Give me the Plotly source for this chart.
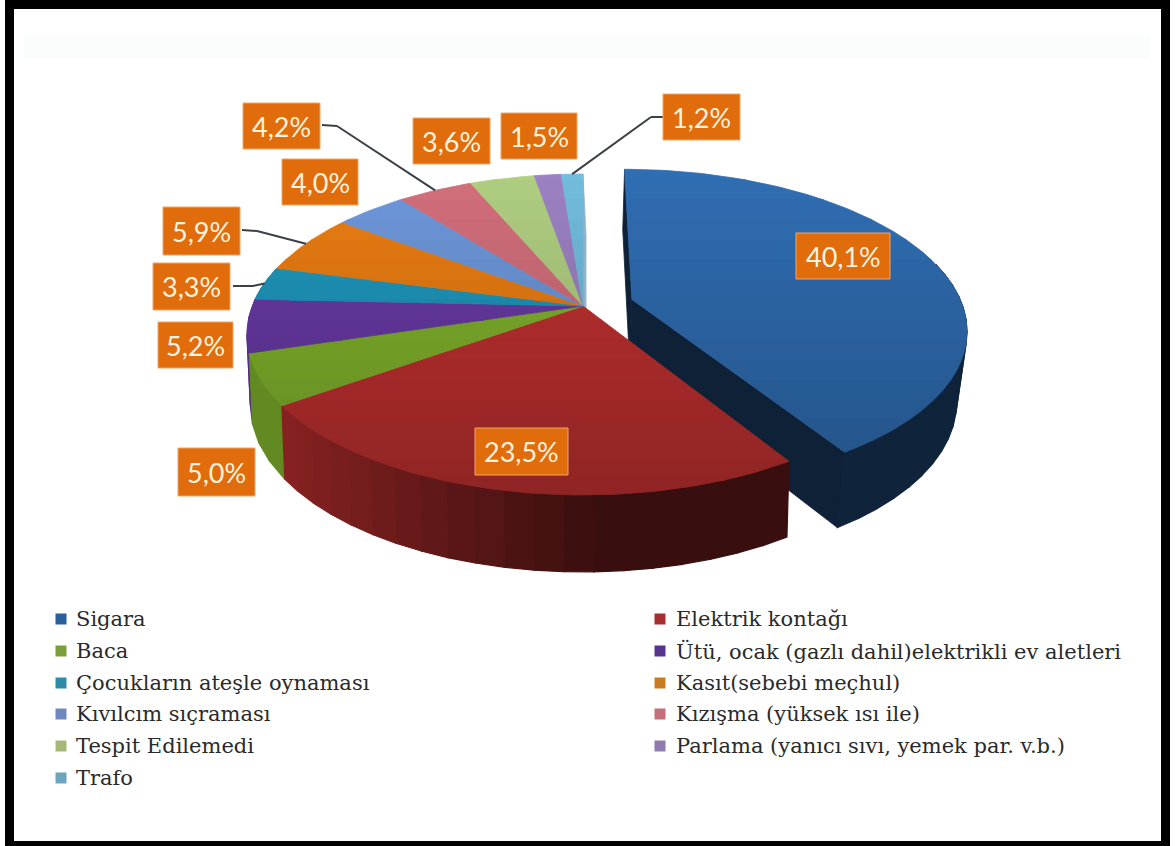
import numpy as np
import plotly.graph_objects as go

# ---------- data ----------
categories = ["Sigara", "Elektrik kontağı", "Baca", "Ütü, ocak (gazlı dahil)elektrikli ev aletleri",
              "Çocukların ateşle oynaması", "Kasıt(sebebi meçhul)", "Kıvılcım sıçraması",
              "Kızışma (yüksek ısı ile)", "Tespit Edilemedi", "Parlama (yanıcı sıvı, yemek par. v.b.)", "Trafo"]
values = [40.1, 23.5, 5.0, 5.2, 3.3, 5.9, 4.0, 4.2, 3.6, 1.5, 1.2]
value_labels = ["40,1%", "23,5%", "5,0%", "5,2%", "3,3%", "5,9%", "4,0%", "4,2%", "3,6%", "1,5%", "1,2%"]
colors = [(47, 108, 176), (190, 48, 48), (128, 178, 44), (104, 58, 164), (30, 150, 186), (232, 124, 18),
          (108, 150, 216), (208, 110, 122), (174, 204, 128), (154, 128, 192), (112, 186, 218)]
legend_colors = ["#2A6099", "#A52F30", "#7C9F3A", "#56358C", "#2C8CA8", "#C97A22",
                 "#7089BD", "#C4707A", "#A6B878", "#8F7BAE", "#6DA5BE"]

# ---------- layout constants (pixels of the 1176x846 page) ----------
W, H = 1176, 846
OX, OY = 583.0, 306.0         # pie apex
R, B, P = 330.7, 155.4, 0.1776  # perspective disc
EXPLODE = 0.155               # pull of the first slice, in radii
label_boxes = [(796, 890, 233, 279), (475, 568, 428, 475), (178, 255, 448, 496), (158, 233, 322, 368),
               (153, 230, 263, 310), (163, 240, 207, 255), (282, 358, 159, 205), (243, 320, 103, 149),
               (413, 490, 118, 164), (501, 577, 113, 159), (663, 740, 94, 140)]
leader_elbows = {4: [(233, 286), (253, 286)], 5: [(242, 230), (257, 231)],
                 7: [(322, 125), (337, 126)], 10: [(663, 117), (651, 117)]}
legend_cols = [(56, 74), (655, 674)]
legend_rows = [619, 651, 683, 714, 746, 778]

fractions = np.array(values) / sum(values)
edges = np.concatenate([[0], np.cumsum(fractions)]) * 2 * np.pi


def project(X, Y):
    """Project a point of the disc plane (radius 1, Y towards the back) to the page."""
    s = 1 / (1 + P * Y)
    return OX + R * X * s, OY - B * Y * s


def shade(c, f):
    return "rgb(%d,%d,%d)" % tuple(int(min(255, max(0, v * f))) for v in c)


def clip(poly, y0, y1):
    def half(pts, inside, cross):
        out = []
        for i in range(len(pts)):
            a, b = pts[i], pts[(i + 1) % len(pts)]
            if inside(a):
                out.append(a)
            if inside(a) != inside(b):
                out.append(cross(a, b))
        return out

    def at(yv):
        return lambda a, b: (a[0] + (b[0] - a[0]) * (yv - a[1]) / (b[1] - a[1]), yv)
    p = half(poly, lambda q: q[1] >= y0, at(y0))
    if p:
        p = half(p, lambda q: q[1] <= y1, at(y1))
    return p


fig = go.Figure()


def poly(pts, color, width=0.8):
    xs = [p[0] for p in pts] + [pts[0][0]]
    ys = [p[1] for p in pts] + [pts[0][1]]
    fig.add_trace(go.Scatter(x=xs, y=ys, mode="lines", fill="toself", fillcolor=color,
                             line=dict(color=color, width=width),
                             hoverinfo="skip", showlegend=False))


def offset(i):
    if i != 0:
        return 0.0, 0.0
    mid = (edges[0] + edges[1]) / 2
    return EXPLODE * np.sin(mid), EXPLODE * np.cos(mid)


def base_at(i, apex_x, x, y, Y):
    """Side-wall bottom point for a rim or apex point."""
    if i == 0:
        return apex_x + 0.975 * (x - apex_x) - 2, y + 69 - 8 * Y
    return OX + 0.99 * (x - OX), y + 69 - 8 * Y


def slice_points(i, density=60):
    th = np.linspace(edges[i], edges[i + 1], max(4, int((edges[i + 1] - edges[i]) * density)))
    ex, ey = offset(i)
    pts = []
    for t in th:
        X, Y = np.sin(t) + ex, np.cos(t) + ey
        px, py = project(X, Y)
        pts.append((px, py, Y))
    return project(ex, ey), pts


def walls(i):
    apex, arc = slice_points(i, 14)
    c = colors[i]
    a_base = base_at(i, apex[0], apex[0], apex[1], 0)
    if i == 0:
        for p in (arc[0], arc[-1]):
            b = base_at(i, apex[0], *p)
            poly([apex, (p[0], p[1]), b, a_base], shade(c, 0.31))
    for a, b in zip(arc[:-1], arc[1:]):
        if a[2] > 0.25 and b[2] > 0.25:
            continue
        f = 0.78 - 0.42 * np.clip((a[0] - 285) / 500, 0, 1)
        if i == 0:
            f = 0.34
        elif i == 1:
            f = 0.72 - 0.42 * np.clip((a[0] - 285) / 330, 0, 1)
        poly([a[:2], b[:2], base_at(i, apex[0], *b), base_at(i, apex[0], *a)], shade(c, f), 1.2)


def top(i):
    apex, arc = slice_points(i)
    pts = [apex] + [p[:2] for p in arc]
    step = 20
    for y0 in range(160, 520, step):
        part = clip(pts, y0, y0 + step)
        if len(part) >= 3:
            g = 1.02 - 0.23 * (y0 + step / 2 - 170) / 290
            poly(part, shade(colors[i], g))


# faint panel of the scanned picture
fig.add_shape(type="rect", x0=24, x1=1150, y0=36, y1=58, fillcolor="#FBFCFC", line_width=0, layer="below")

# back wall of the main pie seen through the gap
_, arc0 = slice_points(len(values) - 1)
end = arc0[-1]
poly([(OX, OY), end[:2], (end[0] + 3, end[1] + 61), (OX + 3, OY + 69)], "#8FB3CC")

# exploded slice first: the red slice overlaps its wall
walls(0)
top(0)
for i in range(len(values) - 1, 0, -1):
    walls(i)
for i in range(1, len(values)):
    top(i)

# legend, from the categories
for n, cat in enumerate(categories):
    col = n % 2
    row = n // 2
    mx, tx = legend_cols[col]
    fig.add_trace(go.Scatter(x=[mx + 5], y=[legend_rows[row]], mode="markers",
                             marker=dict(symbol="square", size=11, color=legend_colors[n],
                                         line=dict(width=0)),
                             hoverinfo="skip", showlegend=False))
    fig.add_annotation(x=tx, y=legend_rows[row], xref="x", yref="y", text=cat, showarrow=False,
                       xanchor="left", yanchor="middle",
                       font=dict(family="DejaVu Serif", size=21, color="#2A2A2A"))

# leader lines
for i, elbow in leader_elbows.items():
    mid = (edges[i] + edges[i + 1]) / 2
    pts = elbow + [project(np.sin(mid), np.cos(mid))]
    for a, b in zip(pts[:-1], pts[1:]):
        fig.add_shape(type="line", x0=a[0], y0=a[1], x1=b[0], y1=b[1],
                      line=dict(color="#3C4045", width=2))

# orange value labels
for txt, (x0, x1, y0, y1) in zip(value_labels, label_boxes):
    fig.add_shape(type="rect", x0=x0, x1=x1, y0=y0, y1=y1, fillcolor="#E06C0C",
                  line=dict(color="#F0A569", width=1))
    fig.add_annotation(x=(x0 + x1) / 2, y=(y0 + y1) / 2, xref="x", yref="y", text=txt, showarrow=False,
                       xanchor="center", yanchor="middle",
                       font=dict(family="Lato", size=27, color="#FDF3DE"))

# black photo frame
for (x0, x1, y0, y1) in [(5, 1170, 0, 9), (5, 14, 0, 846), (1161, 1170, 0, 846), (5, 1170, 841, 846)]:
    fig.add_shape(type="rect", x0=x0, x1=x1, y0=y0, y1=y1, fillcolor="#000000", line_width=0, layer="above")

fig.update_layout(width=W, height=H, margin=dict(l=0, r=0, t=0, b=0), paper_bgcolor="white",
                  plot_bgcolor="white", showlegend=False,
                  xaxis=dict(range=[0, W], visible=False, fixedrange=True),
                  yaxis=dict(range=[H, 0], visible=False, fixedrange=True))
fig.write_html("out.html", config={"displayModeBar": False},
               post_script="document.body.style.margin='0';document.body.style.overflow='hidden';")
